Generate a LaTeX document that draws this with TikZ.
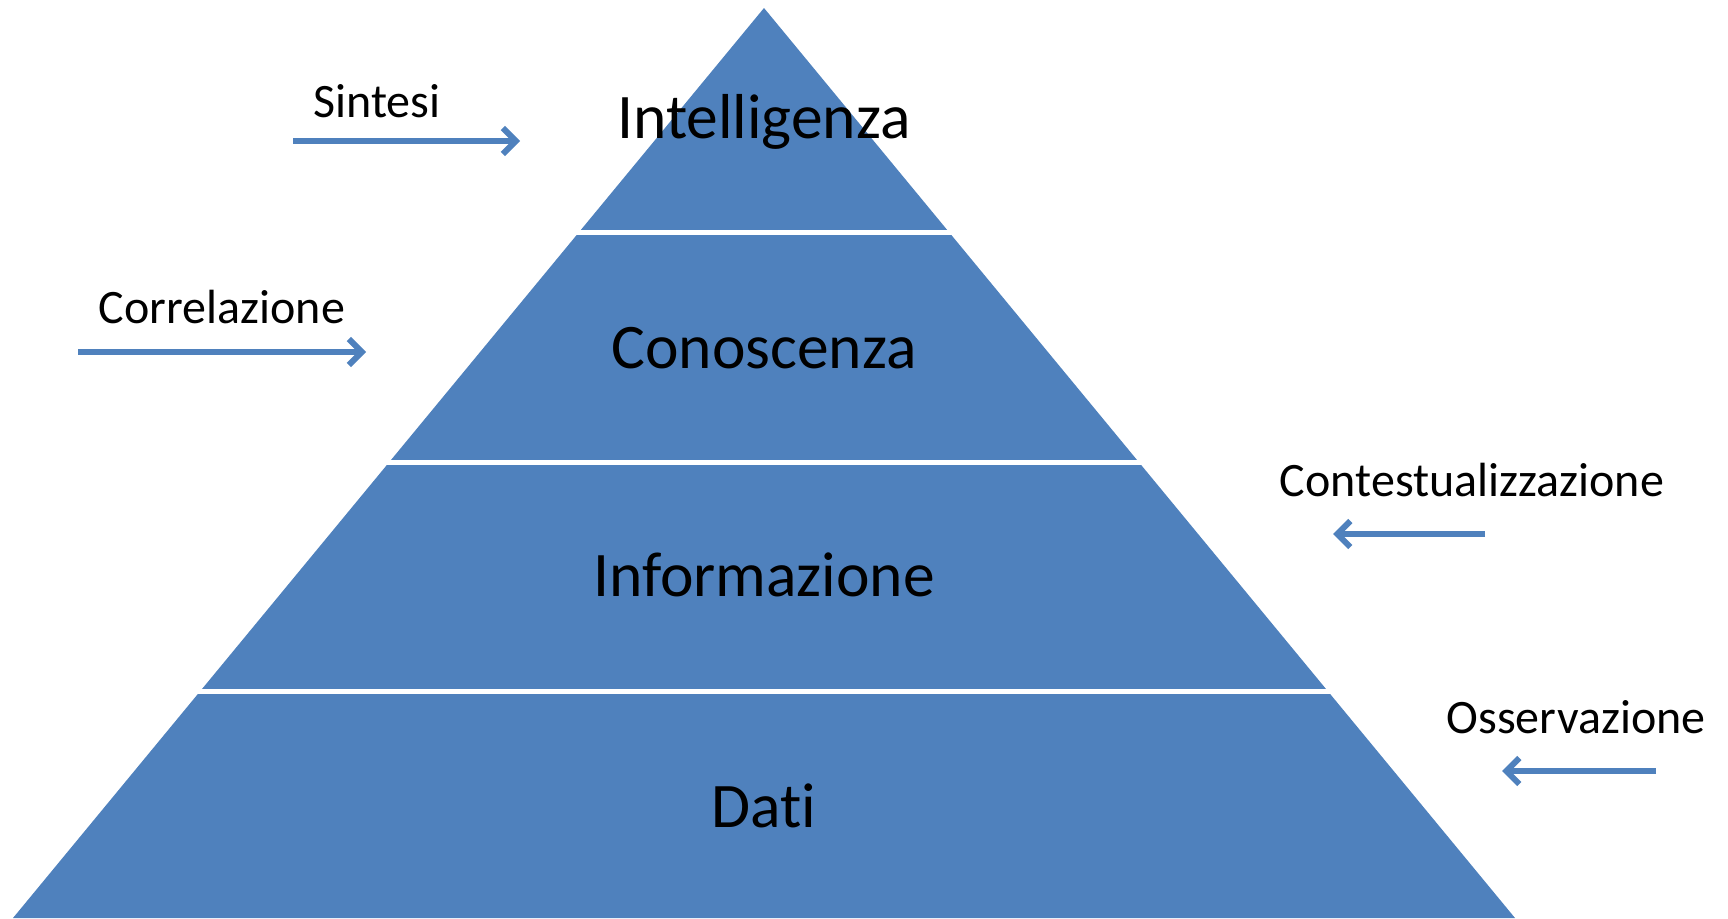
\documentclass[tikz,border=0pt]{standalone}
\usepackage{fontspec}
\setmainfont{Carlito}[RawFeature={-liga}]
\usetikzlibrary{arrows.meta}
\definecolor{pyrblue}{HTML}{4F81BD}
\tikzset{
  bigtxt/.style={font=\fontsize{63.5}{75}\selectfont, anchor=base, inner sep=0pt},
  smalltxt/.style={font=\fontsize{48}{58}\selectfont, anchor=base, inner sep=0pt},
  flowarrow/.style={draw=pyrblue, line width=6pt, -{Straight Barb[length=13pt,width=26pt,line width=6pt]}},
  divider/.style={draw=white, line width=5pt}
}
\begin{document}
\begin{tikzpicture}[x=1pt,y=-1pt]
\useasboundingbox (0,0) rectangle (1728,918);
% pyramid
\coordinate (apex) at (764,8);
\coordinate (bl) at (13,918);
\coordinate (br) at (1515,918);
\fill[pyrblue] (apex) -- (br) -- (bl) -- cycle;
% dividers
\draw[divider] (560,232.5) -- (968,232.5);
\draw[divider] (370,462) -- (1160,462);
\draw[divider] (180,691) -- (1350,691);
% level labels
\node[bigtxt] (intel) at (764,138) {Intelligenza};
\node[bigtxt] (cono) at (764,368) {Conoscenza};
\node[bigtxt] (info) at (764,596) {Informazione};
\node[bigtxt] (dati) at (764,827) {Dati};
% side labels
\node[smalltxt] (sint) at (377,117) {Sintesi};
\node[smalltxt] (corr) at (222,323) {Correlazione};
\node[smalltxt] (cont) at (1472,496) {Contestualizzazione};
\node[smalltxt] (osse) at (1576,733) {Osservazione};
% arrows
\coordinate (s1) at (293,141); \coordinate (s2) at (520,141);
\coordinate (c1) at (78,352); \coordinate (c2) at (366,352);
\coordinate (t1) at (1485,534); \coordinate (t2) at (1333,534);
\coordinate (o1) at (1656,771); \coordinate (o2) at (1502,771);
\draw[flowarrow] (s1) -- (s2);
\draw[flowarrow] (c1) -- (c2);
\draw[flowarrow] (t1) -- (t2);
\draw[flowarrow] (o1) -- (o2);
\end{tikzpicture}
\end{document}
